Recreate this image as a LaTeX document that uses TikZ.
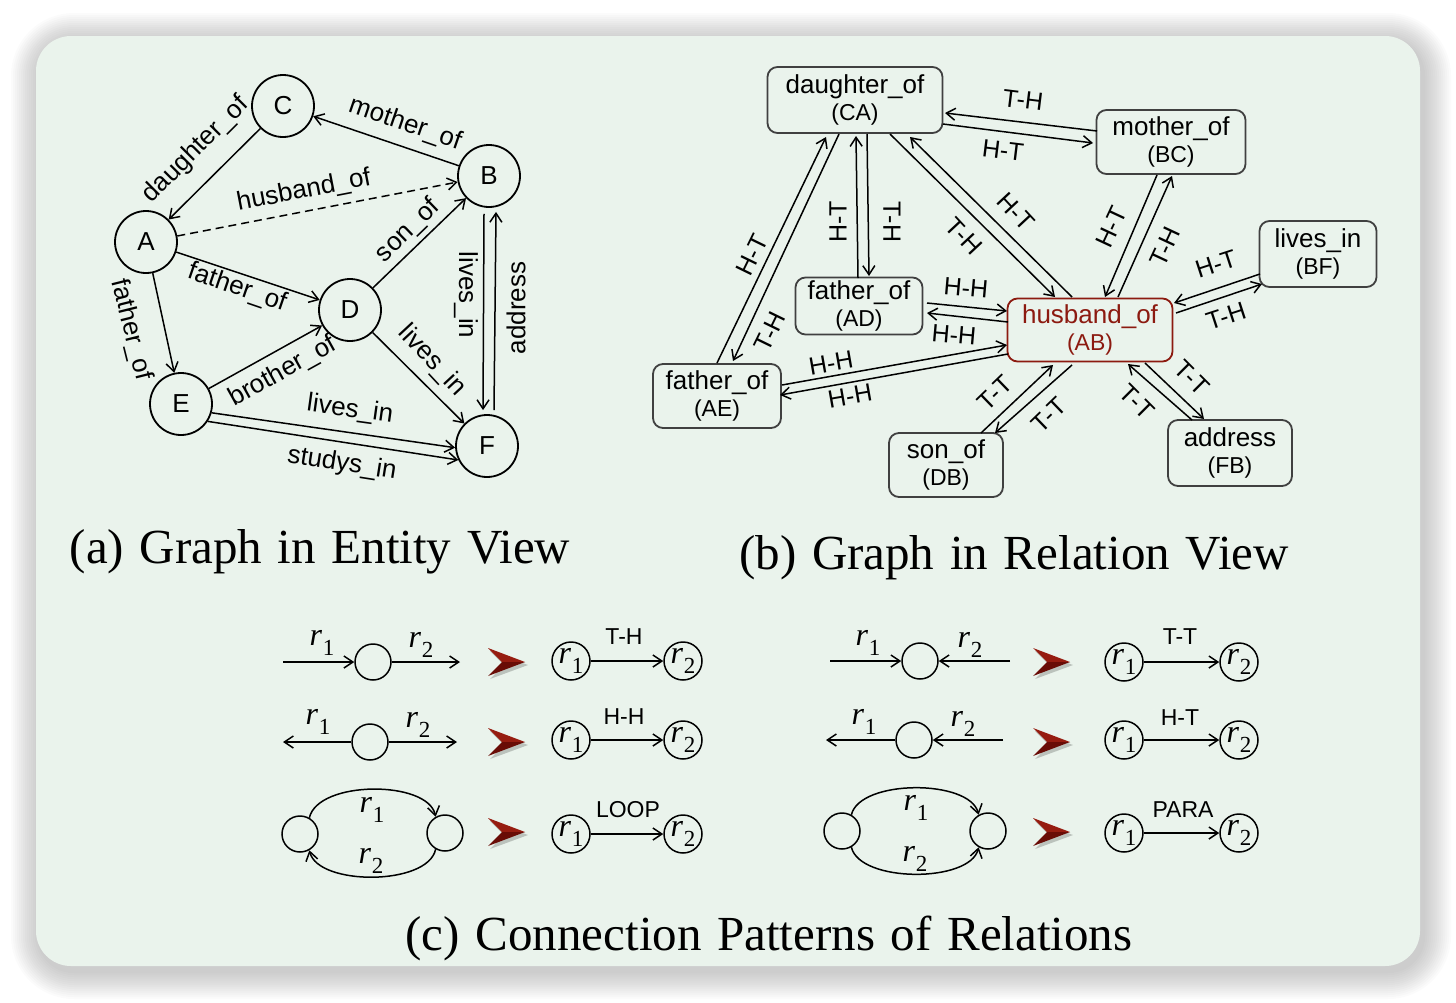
\documentclass[tikz,border=0pt]{standalone}
\usepackage{fontspec}
\setmainfont{Liberation Serif}
\setsansfont{Liberation Sans}
\usetikzlibrary{arrows.meta,calc}
\definecolor{bgc}{RGB}{234,243,236}
\definecolor{boxc}{RGB}{64,64,64}
\definecolor{hred}{RGB}{140,26,16}
\definecolor{chevup}{RGB}{150,28,16}
\definecolor{chevdn}{RGB}{105,12,6}
\newcommand\rsub[1]{\textit{r}\kern0.3pt\raisebox{-5pt}{\fontsize{11.5}{11.5}\selectfont #1}}
\newcommand\captext[1]{\fontsize{24.5}{24.5}\selectfont\spaceskip=0.32em\relax #1}
\begin{document}
\begin{tikzpicture}[x=0.5pt,y=-0.5pt,
  >={Straight Barb[length=4.5pt,width=6pt]},
  line width=0.75pt,
  ent/.style={circle,draw,line width=0.9pt,minimum size=31pt,inner sep=0pt,font=\sffamily\fontsize{13}{13}\selectfont},
  elab/.style={font=\sffamily\fontsize{13}{13}\selectfont,inner sep=0pt},
  rbox/.style={draw=boxc,line width=0.9pt,rounded corners=5pt,align=center,inner sep=0pt,font=\sffamily\fontsize{13}{13.5}\selectfont},
  rlab/.style={font=\sffamily\fontsize{12.5}{12.5}\selectfont,inner sep=0pt},
  pc/.style={circle,draw,line width=0.75pt,minimum size=18pt,inner sep=0pt},
  rc/.style={circle,draw,line width=0.75pt,minimum size=19pt,inner sep=0pt,font=\fontsize{16}{16}\selectfont},
  plab/.style={font=\sffamily\fontsize{11.5}{11.5}\selectfont,inner sep=0pt},
  rl/.style={font=\fontsize{16}{16}\selectfont,inner sep=0pt},
  captxt/.style={inner sep=0pt,anchor=base},
  chevpic/.pic={
    \fill[black,opacity=0.2] (-17,-11) -- (21,3) -- (-17,17) -- (-3,3) -- cycle;
    \fill[chevup] (-19,-14) -- (18,0) -- (-5,0) -- cycle;
    \fill[chevdn] (-19,14) -- (18,0) -- (-5,0) -- cycle;
  }
]
\useasboundingbox (0,0) rectangle (1456,1002);
% background shadow and panel
\foreach \i in {1,...,14} {
  \fill[black,opacity=0.014,rounded corners=17.5pt+\i*1pt] (36-\i*2+3,36-\i*2+5) rectangle (1420+\i*2+3,966+\i*2+5);
}
\fill[bgc,rounded corners=17.5pt] (36,36) rectangle (1420,966);

% ---------------- (a) entity view ----------------
\node[ent] (C) at (283,106) {C};
\node[ent] (B) at (489,176) {B};
\node[ent] (A) at (146,242) {A};
\node[ent] (D) at (350,310) {D};
\node[ent] (E) at (181,404) {E};
\node[ent] (F) at (487,446) {F};

\draw[->] (C) -- (A);
\draw[->] (B) -- (C);
\draw[->,dash pattern=on 4pt off 2.5pt] (A) -- (B);
\draw[->] (A) -- (D);
\draw[->] (A) -- (E);
\draw[->] (D) -- (B);
\draw[->] (E) -- (D);
\draw[->] (D) -- (F);
\draw[->] (E.-16) -- (F.183);
\draw[->] (E.-33) -- (F.206);
\draw[->] ([xshift=-2.5pt,yshift=-3pt]B.south) -- ([xshift=-2pt,yshift=2pt]F.north);
\draw[->] ([xshift=3.5pt,yshift=2pt]F.north) -- ([xshift=3.5pt,yshift=-2pt]B.south);

\node[elab,rotate=45] (l1) at (196,150) {daughter\_of};
\node[elab,rotate=-19] (l2) at (405,124) {mother\_of};
\node[elab,rotate=11] (l3) at (304,191) {husband\_of};
\node[elab,rotate=-19] (l4) at (237,288) {father\_of};
\node[elab,rotate=-76] (l5) at (131,330) {father\_of};
\node[elab,rotate=44] (l6) at (408,231) {son\_of};
\node[elab,rotate=29] (l7) at (283,372) {brother\_of};
\node[elab,rotate=-47] (l8) at (432,361) {lives\_in};
\node[elab,rotate=-8] (l9) at (350,410) {lives\_in};
\node[elab,rotate=-9] (l10) at (342,464) {studys\_in};
\node[elab,rotate=-90] (l11) at (466,295) {lives\_in};
\node[elab,rotate=90] (l12) at (516,308) {address};

\node[captxt] (capa) at (320,563) {\captext{(a) Graph in Entity View}};

% ---------------- (b) relation view ----------------
\node[rbox,minimum width=87.5pt,minimum height=33pt] (CA) at (855,100) {daughter\_of\\{\fontsize{11.5}{13.5}\selectfont (CA)}};
\node[rbox,minimum width=74.5pt,minimum height=32pt] (BC) at (1171,142) {mother\_of\\{\fontsize{11.5}{13.5}\selectfont (BC)}};
\node[rbox,minimum width=58.5pt,minimum height=33pt] (BF) at (1318,254) {lives\_in\\{\fontsize{11.5}{13.5}\selectfont (BF)}};
\node[rbox,minimum width=63.5pt,minimum height=28.5pt] (AD) at (859,306) {father\_of\\{\fontsize{11.5}{13.5}\selectfont (AD)}};
\node[rbox,draw=hred,text=hred,minimum width=82.5pt,minimum height=31.5pt] (AB) at (1090,330) {husband\_of\\{\fontsize{11.5}{13.5}\selectfont (AB)}};
\node[rbox,minimum width=64pt,minimum height=32pt] (AE) at (717,396) {father\_of\\{\fontsize{11.5}{13.5}\selectfont (AE)}};
\node[rbox,minimum width=57pt,minimum height=32pt] (DB) at (946,465) {son\_of\\{\fontsize{11.5}{13.5}\selectfont (DB)}};
\node[rbox,minimum width=62pt,minimum height=33pt] (FB) at (1230,453) {address\\{\fontsize{11.5}{13.5}\selectfont (FB)}};

\draw[->] ([shift={(-74,-11)}]BC.center) -- ([shift={(90,13)}]CA.center);
\draw[->] ([shift={(88,24)}]CA.center) -- ([shift={(-78,1)}]BC.center);
\draw[->] ([shift={(0,-33)}]AE.center) -- ([shift={(-29,37)}]CA.center);
\draw[->] ([shift={(-16,34)}]CA.center) -- ([shift={(16,-35)}]AE.center);
\draw[->] ([shift={(-1,-28)}]AD.center) -- ([shift={(1,36)}]CA.center);
\draw[->] ([shift={(12,34)}]CA.center) -- ([shift={(10,-30)}]AD.center);
\draw[->] ([shift={(35,34)}]CA.center) -- ([shift={(-35,-33)}]AB.center);
\draw[->] ([shift={(-18,-33)}]AB.center) -- ([shift={(55,37)}]CA.center);
\draw[->] ([shift={(-14,33)}]BC.center) -- ([shift={(15,-33)}]AB.center);
\draw[->] ([shift={(28,-33)}]AB.center) -- ([shift={(1,34)}]BC.center);
\draw[->] ([shift={(-58,20)}]BF.center) -- ([shift={(84,-27)}]AB.center);
\draw[->] ([shift={(86,-17)}]AB.center) -- ([shift={(-56,30)}]BF.center);
\draw[->] ([shift={(68,-3)}]AD.center) -- ([shift={(-83,-19)}]AB.center);
\draw[->] ([shift={(-82,-8)}]AB.center) -- ([shift={(68,7)}]AD.center);
\draw[->] ([shift={(65,-11)}]AE.center) -- ([shift={(-83,15)}]AB.center);
\draw[->] ([shift={(-82,24)}]AB.center) -- ([shift={(63,-1)}]AE.center);
\draw[->] ([shift={(35,-32)}]DB.center) -- ([shift={(-37,35)}]AB.center);
\draw[->] ([shift={(-18,35)}]AB.center) -- ([shift={(49,-32)}]DB.center);
\draw[->] ([shift={(55,33)}]AB.center) -- ([shift={(-26,-34)}]FB.center);
\draw[->] ([shift={(-38,-33)}]FB.center) -- ([shift={(38,34)}]AB.center);

\node[rlab,rotate=-7] (m1) at (1023,100) {T-H};
\node[rlab,rotate=-7] (m2) at (1003,150) {H-T};
\node[rlab,rotate=64] (m3) at (752,255) {H-T};
\node[rlab,rotate=64] (m4) at (770,332) {T-H};
\node[rlab,rotate=90] (m5) at (838,222) {H-T};
\node[rlab,rotate=-90] (m6) at (892,222) {T-H};
\node[rlab,rotate=-47] (m7) at (964,236) {T-H};
\node[rlab,rotate=-47] (m8) at (1016,212) {H-T};
\node[rlab,rotate=65] (m9) at (1111,227) {H-T};
\node[rlab,rotate=65] (m10) at (1165,247) {T-H};
\node[rlab,rotate=18] (m11) at (1216,264) {H-T};
\node[rlab,rotate=18] (m12) at (1226,316) {T-H};
\node[rlab,rotate=-5] (m13) at (966,288) {H-H};
\node[rlab,rotate=-5] (m14) at (954,335) {H-H};
\node[rlab,rotate=10] (m15) at (831,363) {H-H};
\node[rlab,rotate=10] (m16) at (850,396) {H-H};
\node[rlab,rotate=44] (m17) at (995,393) {T-T};
\node[rlab,rotate=44] (m18) at (1049,415) {T-T};
\node[rlab,rotate=-45] (m19) at (1192,378) {T-T};
\node[rlab,rotate=-45] (m20) at (1137,402) {T-T};

\node[captxt] (capb) at (1014,569) {\captext{(b) Graph in Relation View}};

% ---------------- (c) patterns ----------------
% row 1 left: T-H
\node[pc] (p1c) at (373,662) {};
\coordinate (p1a) at (283,662);
\coordinate (p1b) at (460,662);
\draw[->] (p1a) -- (p1c);
\draw[->] (p1c) -- (p1b);
\node[rl] (p1l1) at (322,643) {\rsub{1}};
\node[rl] (p1l2) at (421,645) {\rsub{2}};
\pic at (507,662) {chevpic};
\node[rc] (p1r1) at (571,661) {\rsub{1}};
\node[rc] (p1r2) at (683,661) {\rsub{2}};
\draw[->] (p1r1) -- (p1r2);
\node[plab] (p1t) at (624,637) {T-H};

% row 2 left: H-H
\node[pc] (p2c) at (370,742) {};
\coordinate (p2a) at (283,742);
\coordinate (p2b) at (457,742);
\draw[->] (p2c) -- (p2a);
\draw[->] (p2c) -- (p2b);
\node[rl] (p2l1) at (318,722) {\rsub{1}};
\node[rl] (p2l2) at (418,725) {\rsub{2}};
\pic at (507,742) {chevpic};
\node[rc] (p2r1) at (571,740) {\rsub{1}};
\node[rc] (p2r2) at (683,740) {\rsub{2}};
\draw[->] (p2r1) -- (p2r2);
\node[plab] (p2t) at (624,717) {H-H};

% row 3 left: LOOP
\node[pc] (p3l) at (300,834) {};
\node[pc] (p3r) at (445,833) {};
\draw[->] (p3l.60) .. controls (318,780) and (428,780) .. (p3r.120);
\draw[->] (p3r.-120) .. controls (428,886) and (318,886) .. (p3l.-60);
\node[rl] (p3l1) at (372,810) {\rsub{1}};
\node[rl] (p3l2) at (371,861) {\rsub{2}};
\pic at (507,832) {chevpic};
\node[rc] (p3r1) at (571,834) {\rsub{1}};
\node[rc] (p3r2) at (683,834) {\rsub{2}};
\draw[->] (p3r1) -- (p3r2);
\node[plab] (p3t) at (628,810) {LOOP};

% row 1 right: T-T
\node[pc] (q1c) at (920,661) {};
\coordinate (q1a) at (830,661);
\coordinate (q1b) at (1010,661);
\draw[->] (q1a) -- (q1c);
\draw[->] (q1b) -- (q1c);
\node[rl] (q1l1) at (868,643) {\rsub{1}};
\node[rl] (q1l2) at (970,645) {\rsub{2}};
\pic at (1052,662) {chevpic};
\node[rc] (q1r1) at (1124,662) {\rsub{1}};
\node[rc] (q1r2) at (1239,662) {\rsub{2}};
\draw[->] (q1r1) -- (q1r2);
\node[plab] (q1t) at (1180,637) {T-T};

% row 2 right: H-T
\node[pc] (q2c) at (914,740) {};
\coordinate (q2a) at (826,740);
\coordinate (q2b) at (1003,740);
\draw[->] (q2c) -- (q2a);
\draw[->] (q2b) -- (q2c);
\node[rl] (q2l1) at (864,722) {\rsub{1}};
\node[rl] (q2l2) at (963,724) {\rsub{2}};
\pic at (1052,742) {chevpic};
\node[rc] (q2r1) at (1124,740) {\rsub{1}};
\node[rc] (q2r2) at (1239,740) {\rsub{2}};
\draw[->] (q2r1) -- (q2r2);
\node[plab] (q2t) at (1180,718) {H-T};

% row 3 right: PARA
\node[pc] (q3l) at (842,831) {};
\node[pc] (q3r) at (988,831) {};
\draw[->] (q3l.60) .. controls (860,779) and (970,779) .. (q3r.120);
\draw[->] (q3l.-60) .. controls (860,883) and (970,883) .. (q3r.-120);
\node[rl] (q3l1) at (916,808) {\rsub{1}};
\node[rl] (q3l2) at (915,859) {\rsub{2}};
\pic at (1052,832) {chevpic};
\node[rc] (q3r1) at (1124,833) {\rsub{1}};
\node[rc] (q3r2) at (1239,833) {\rsub{2}};
\draw[->] (q3r1) -- (q3r2);
\node[plab] (q3t) at (1183,810) {PARA};

\node[captxt] (capc) at (769,950) {\captext{(c) Connection Patterns of Relations}};
\end{tikzpicture}
\end{document}
